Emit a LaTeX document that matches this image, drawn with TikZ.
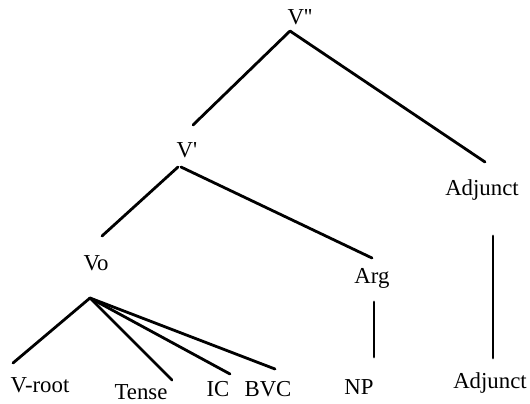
\documentclass[tikz,border=0pt]{standalone}
\usepackage{fontspec}
\setmainfont{Liberation Serif}
\usetikzlibrary{positioning}

\begin{document}
\begin{tikzpicture}[x=0.5pt, y=-0.5pt,
    lbl/.style={inner sep=1pt, font=\rmfamily\fontsize{11.4}{13}\selectfont},
    branch/.style={line width=1.4pt, line cap=round}]
    \useasboundingbox (0,0) rectangle (530,403);

    % category labels
    \node[lbl] (vbb)   at (300,17)  {V\textquotesingle\textquotesingle};
    \node[lbl] (vb)    at (187,150) {V\textquotesingle};
    \node[lbl] (adj)   at (482,190) {Adjunct};
    \node[lbl] (vo)    at (96,263)  {Vo};
    \node[lbl] (arg)   at (372,278) {Arg};
    \node[lbl] (vroot) at (40,385)  {V-root};
    \node[lbl] (tense) at (141,392) {Tense};
    \node[lbl] (ic)    at (218,389) {IC};
    \node[lbl] (bvc)   at (268,389) {BVC};
    \node[lbl] (np)    at (359,387) {NP};
    \node[lbl] (adjw)  at (490,383) {Adjunct};

    % where the branches start and stop
    \coordinate (vbb-foot)   at (290,31);
    \coordinate (vb-head)    at (193,125);
    \coordinate (adj-head)   at (485,162);
    \coordinate (vb-footl)   at (178,167);
    \coordinate (vb-footr)   at (181,167);
    \coordinate (vo-head)    at (102,236);
    \coordinate (arg-head)   at (372,258);
    \coordinate (arg-foot)   at (374,302);
    \coordinate (np-head)    at (374,357);
    \coordinate (adj-foot)   at (493,236);
    \coordinate (adjw-head)  at (493,358);
    \coordinate (vo-foot)    at (90,298);
    \coordinate (vroot-head) at (13,363);
    \coordinate (tense-head) at (172,380);
    \coordinate (ic-head)    at (230,374);
    \coordinate (bvc-head)   at (275,369);

    % branches
    \draw[branch] (vbb-foot) -- (vb-head);
    \draw[branch] (vbb-foot) -- (adj-head);
    \draw[branch] (vb-footl) -- (vo-head);
    \draw[branch] (vb-footr) -- (arg-head);
    \draw[branch] (arg-foot) -- (np-head);
    \draw[branch] (adj-foot) -- (adjw-head);
    \foreach \leaf in {vroot,tense,ic,bvc}
        \draw[branch] (vo-foot) -- (\leaf-head);
\end{tikzpicture}
\end{document}
